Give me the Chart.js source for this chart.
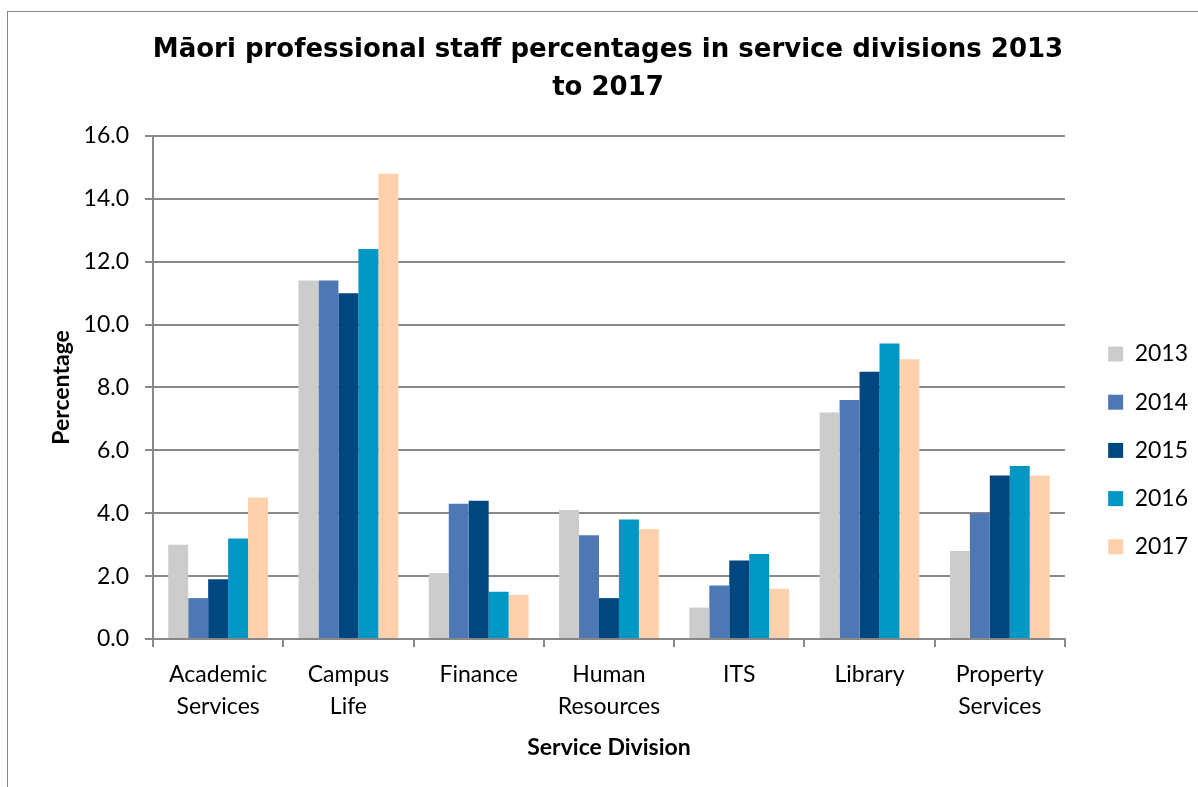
<!DOCTYPE html>
<html>
<head>
<meta charset="utf-8">
<title>Māori professional staff percentages</title>
<script src="https://cdn.jsdelivr.net/npm/chart.js@4.4.1/dist/chart.umd.min.js"></script>
<style>
  html, body { margin: 0; padding: 0; background: #fff; overflow: hidden; }
  #frame {
    position: absolute; left: 7px; top: 11px; width: 1300px; height: 900px;
    border-left: 1px solid #868686; border-top: 1px solid #868686;
  }
  #wrap { position: absolute; left: 0; top: 0; width: 1198px; height: 787px; }
</style>
</head>
<body>
<div id="frame"></div>
<div id="wrap"><canvas id="chart"></canvas></div>
<script>
// service divisions (two-line labels under the axis)
const divisions = [
  ['Academic', 'Services'],
  ['Campus', 'Life'],
  ['Finance'],
  ['Human', 'Resources'],
  ['ITS'],
  ['Library'],
  ['Property', 'Services']
]
const years = ['2013', '2014', '2015', '2016', '2017']

// percentage of Māori professional staff, per division
const pct2013 = [3.0, 11.4, 2.1, 4.1, 1.0, 7.2, 2.8]
const pct2014 = [1.3, 11.4, 4.3, 3.3, 1.7, 7.6, 4.0]
const pct2015 = [1.9, 11.0, 4.4, 1.3, 2.5, 8.5, 5.2]
const pct2016 = [3.2, 12.4, 1.5, 3.8, 2.7, 9.4, 5.5]
const pct2017 = [4.5, 14.8, 1.4, 3.5, 1.6, 8.9, 5.2]

const yMin = 0
const yMax = 16
const yStep = 2

const colours = ['#cccccc', '#4e78b4', '#00467f', '#0097c4', '#fed1ac']
const series = [pct2013, pct2014, pct2015, pct2016, pct2017]

const grey = '#888888'
const labelFont = { family: 'Lato', size: 23 }
const boldFont = { family: 'Lato', size: 23, weight: 'bold' }

const ctx = document.getElementById('chart')
const chart = new Chart(ctx, {
  type: 'bar',
  data: {
    labels: divisions,
    datasets: years.map((y, i) => ({
      label: y,
      data: series[i],
      backgroundColor: colours[i],
      borderWidth: 0,
      categoryPercentage: 0.766,
      barPercentage: 1.0
    }))
  },
  options: {
    responsive: true,
    maintainAspectRatio: false,
    animation: false,
    events: [],
    layout: { padding: { left: 18, right: 0, top: 31, bottom: 26 } },
    plugins: {
      title: {
        display: true,
        text: ['Māori professional staff percentages in service divisions 2013', 'to 2017'],
        color: '#000',
        font: { family: 'DejaVu Sans', size: 26, weight: 'bold', lineHeight: 1.46 },
        padding: { top: 0, bottom: 29 }
      },
      legend: {
        position: 'right',
        align: 'start',
        fullSize: false,
        title: { display: true, text: '', padding: { top: 167, bottom: 0 }, font: { size: 12 } },
        labels: {
          color: '#000',
          font: labelFont,
          boxWidth: 15,
          boxHeight: 15,
          padding: 25.2
        }
      },
      tooltip: { enabled: false }
    },
    scales: {
      x: {
        grid: {
          display: true,
          drawOnChartArea: false,
          drawTicks: true,
          tickLength: 8,
          color: grey,
          lineWidth: 2,
          offset: true
        },
        border: { display: true, color: grey, width: 2 },
        ticks: {
          color: '#000',
          font: { family: 'Lato', size: 23, lineHeight: 1.37 },
          padding: 12,
          maxRotation: 0,
          autoSkip: false
        },
        title: {
          display: true,
          text: 'Service Division',
          color: '#000',
          font: boldFont,
          padding: { top: 0, bottom: 0 }
        },
        afterFit: s => { s.height = 122 }
      },
      y: {
        min: yMin,
        max: yMax,
        grid: { color: grey, lineWidth: 2, tickLength: 8 },
        border: { display: true, color: grey, width: 2 },
        ticks: {
          stepSize: yStep,
          color: '#000',
          font: labelFont,
          padding: 16,
          callback: v => v.toFixed(1)
        },
        title: {
          display: true,
          text: 'Percentage',
          color: '#000',
          font: boldFont,
          padding: { top: 30, bottom: 0 }
        },
        afterFit: s => { s.width = 135 }
      },
      // empty strip between the plot and the legend
      gap: {
        position: 'right',
        type: 'linear',
        display: true,
        grid: { display: false },
        border: { display: false },
        ticks: { display: false },
        afterFit: s => { s.width = 18 }
      }
    }
  }
})
</script>
</body>
</html>
